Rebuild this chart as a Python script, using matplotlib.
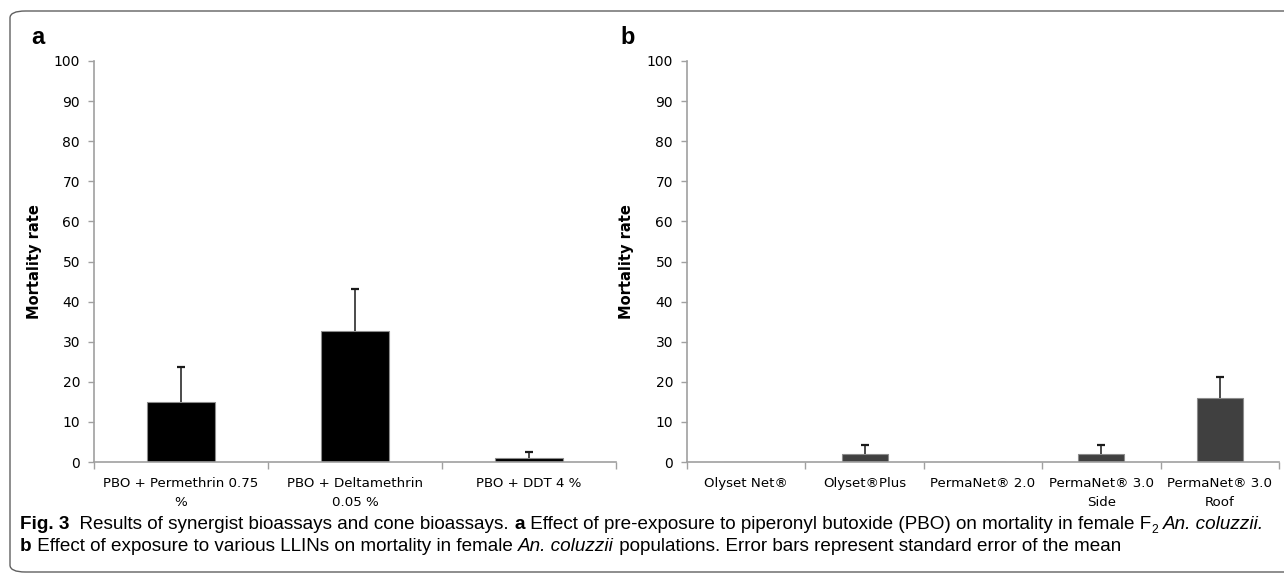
import matplotlib.pyplot as plt
import numpy as np
from matplotlib.patches import FancyBboxPatch

# data
cats_a = ['PBO + Permethrin 0.75\n%', 'PBO + Deltamethrin\n0.05 %', 'PBO + DDT 4 %']
mort_a = [15.0, 32.7, 1.0]
se_a = [8.7, 10.4, 1.5]

cats_b = ['Olyset Net\u00ae', 'Olyset\u00aePlus', 'PermaNet\u00ae 2.0',
          'PermaNet\u00ae 3.0\nSide', 'PermaNet\u00ae 3.0\nRoof']
mort_b = [0.0, 2.0, 0.0, 2.0, 15.9]
se_b = [0.0, 2.2, 0.0, 2.2, 5.2]

W, H = 1284, 577
fig = plt.figure(figsize=(W / 100, H / 100), dpi=100)

# rounded frame around the figure (right edge runs off the image)
frame = FancyBboxPatch((10 / W, 5 / H), 1.5, 561 / H,
                       boxstyle='round,pad=0,rounding_size=0.012',
                       transform=fig.transFigure, fill=False,
                       edgecolor='#606060', linewidth=1.0, clip_on=False)
fig.patches.append(frame)


def panel(rect, cats, vals, errs, color, ylab_x, letter, letter_x):
	ax = fig.add_axes(rect)
	x = np.arange(len(cats))
	vals = np.array(vals)
	errs = np.array(errs)
	ax.bar(x, vals, width=0.39, color=color, edgecolor='#8c8c8c', linewidth=0.8, zorder=2)
	# only the upper half of the error bar, and none where there is no error
	m = errs > 0
	_, caps, _ = ax.errorbar(x[m], vals[m], yerr=[np.zeros(m.sum()), errs[m]], fmt='none',
							 ecolor='#1a1a1a', elinewidth=1.1, capsize=3, capthick=1.6, zorder=3)
	caps[0].remove()
	ax.set_xlim(-0.5, len(cats) - 0.5)
	ax.set_ylim(0, 100)
	ax.set_yticks(range(0, 101, 10))
	ax.set_xticks(np.arange(-0.5, len(cats), 1.0))
	ax.set_xticklabels([])
	ax.set_xticks(x, minor=True)
	ax.set_xticklabels(cats, minor=True, fontsize=9.6, linespacing=1.6)
	ax.tick_params(axis='x', which='minor', length=0, pad=10.5)
	ax.tick_params(axis='x', which='major', length=5, width=1, color='#a0a0a0')
	ax.tick_params(axis='y', length=4, width=1, color='#a0a0a0', labelsize=10, pad=6)
	for s in ['top', 'right']:
		ax.spines[s].set_visible(False)
	for s in ['left', 'bottom']:
		ax.spines[s].set_color('#a0a0a0')
		ax.spines[s].set_linewidth(1.2)
	fig.text(ylab_x / W, 1 - 262 / H, 'Mortality rate', rotation=90, ha='center', va='center',
			 fontsize=10.5, fontweight='bold')
	fig.text(letter_x / W, 1 - 38 / H, letter, ha='left', va='center', fontsize=17,
			 fontweight='bold', family='Liberation Sans')
	return ax


ax1 = panel([94 / W, 1 - 462 / H, 522 / W, 401 / H], cats_a, mort_a, se_a, 'black', 34, 'a', 31)
ax2 = panel([687 / W, 1 - 462 / H, 592 / W, 401 / H], cats_b, mort_b, se_b, '#404040', 627, 'b', 620)

# caption, drawn piece by piece so bold / italic parts can be mixed
fig.canvas.draw()
renderer = fig.canvas.get_renderer()


def caption_line(pieces, x0, y0, size=13.6):
	x = x0
	for txt, style in pieces:
		kw = dict(fontsize=size, family='Liberation Sans', va='baseline', ha='left')
		dy = 0
		if 'b' in style:
			kw['fontweight'] = 'bold'
		if 'i' in style:
			kw['fontstyle'] = 'italic'
		if 's' in style:
			kw['fontsize'] = size * 0.65
			dy = -4
		t = fig.text(x / W, 1 - (y0 - dy) / H, txt, **kw)
		bb = t.get_window_extent(renderer)
		x += bb.width


caption_line([('Fig. 3', 'b'),
			  ('  Results of synergist bioassays and cone bioassays. ', ''),
			  ('a', 'b'),
			  (' Effect of pre-exposure to piperonyl butoxide (PBO) on mortality in female F', ''),
			  ('2', 's'), (' ', ''),
			  ('An. coluzzii.', 'i')], 20, 529)
caption_line([('b', 'b'),
			  (' Effect of exposure to various LLINs on mortality in female ', ''),
			  ('An. coluzzii', 'i'),
			  (' populations. Error bars represent standard error of the mean', '')], 20, 551)

fig.savefig('out.png', dpi=100)
